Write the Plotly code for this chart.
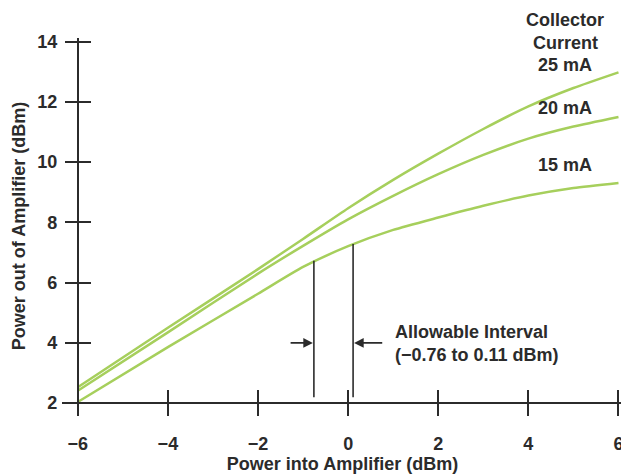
import plotly.graph_objects as go

# Power in (dBm) vs power out (dBm) for three collector currents
p_in = [-6, -4, -2, -1, 0, 1, 2, 3, 4, 5, 6]
out_25ma = [2.53, 4.50, 6.45, 7.45, 8.47, 9.41, 10.28, 11.10, 11.85, 12.46, 12.98]
out_20ma = [2.41, 4.35, 6.30, 7.22, 8.10, 8.88, 9.60, 10.24, 10.78, 11.18, 11.50]
out_15ma = [2.04, 3.86, 5.63, 6.52, 7.21, 7.75, 8.16, 8.55, 8.89, 9.14, 9.31]

# allowable interval markers
interval_x = [-0.76, 0.11]
interval_top = [6.73, 7.28]
interval_bottom = 2.2

x_ticks = [-6, -4, -2, 0, 2, 4, 6]
y_ticks = [2, 4, 6, 8, 10, 12, 14]

x_range = [-6.35, 6.1]
y_range = [1.64, 14.12]

GREEN = '#a6cf5c'
INK = '#2b2b2b'
FONT = dict(family='Liberation Sans, Arial, sans-serif', size=18, color=INK, weight='bold')

fig = go.Figure()

for vals in [out_25ma, out_20ma, out_15ma]:
    fig.add_trace(go.Scatter(x=p_in, y=vals, mode='lines',
                             line=dict(color=GREEN, width=2.5, shape='spline', smoothing=0.6),
                             showlegend=False, hoverinfo='skip'))

for xv, top in zip(interval_x, interval_top):
    fig.add_trace(go.Scatter(x=[xv, xv], y=[interval_bottom, top], mode='lines',
                             line=dict(color=INK, width=1.6),
                             showlegend=False, hoverinfo='skip'))

# invisible trace so the overlay axes get drawn
fig.add_trace(go.Scatter(x=[x_ticks[0]], y=[y_ticks[0]], xaxis='x2', yaxis='y2',
                         mode='markers', marker=dict(opacity=0), showlegend=False,
                         hoverinfo='skip'))

# axis positions (paper fraction) where the other axis sits
x_pos = (y_ticks[0] - y_range[0]) / (y_range[1] - y_range[0])
y_pos = (x_ticks[0] - x_range[0]) / (x_range[1] - x_range[0])

axis_common = dict(showgrid=False, zeroline=False, showline=True, linecolor=INK,
                   linewidth=1.6, tickcolor=INK, tickwidth=1.6, ticklen=12,
                   automargin=False)

# page body adds an 8px offset, so the figure is 8px smaller than the window
fig.update_layout(
    width=621, height=466,
    margin=dict(l=54, r=6, t=30, b=60),
    paper_bgcolor='white', plot_bgcolor='white',
    font=FONT,
    xaxis=dict(range=x_range, tickvals=x_ticks, ticks='outside',
               anchor='free', position=x_pos, ticklabelstandoff=12,
               tickfont=FONT, ticklabeloverflow='allow',
               title=dict(text='Power into Amplifier (dBm)', font=FONT, standoff=3),
               **axis_common),
    yaxis=dict(range=y_range, tickvals=y_ticks, ticks='outside',
               anchor='free', position=y_pos, ticklabelstandoff=4,
               tickfont=FONT,
               title=dict(text='Power out of Amplifier (dBm)', font=FONT, standoff=6),
               **axis_common),
    xaxis2=dict(range=x_range, tickvals=x_ticks, ticks='inside', showticklabels=False,
                overlaying='x', anchor='free', position=x_pos, **axis_common),
    yaxis2=dict(range=y_range, tickvals=y_ticks, ticks='inside', showticklabels=False,
                overlaying='y', anchor='free', position=y_pos, **axis_common),
)

# curve labels (Collector sits above the top of the range, so shift it in pixels)
labels = [('Collector', 13.97, 23), ('Current', 13.97, 0), ('25 mA', 13.24, 0),
          ('20 mA', 11.81, 0), ('15 mA', 9.91, 0)]
for txt, yv, shift in labels:
    fig.add_annotation(x=4.82, y=yv, yshift=shift, text=txt, showarrow=False, font=FONT,
                       xanchor='center', yanchor='middle')

# interval arrows
fig.add_annotation(x=interval_x[0], y=4.0, ax=-1.31, ay=4.0, axref='x', ayref='y',
                   text='', showarrow=True, arrowhead=2, arrowsize=1.2,
                   arrowwidth=1.6, arrowcolor=INK, standoff=1)
fig.add_annotation(x=interval_x[1], y=4.0, ax=0.79, ay=4.0, axref='x', ayref='y',
                   text='', showarrow=True, arrowhead=2, arrowsize=1.2,
                   arrowwidth=1.6, arrowcolor=INK, standoff=1)
fig.add_annotation(x=1.0, y=3.97, text='Allowable Interval<br>(\u22120.76 to 0.11 dBm)',
                   showarrow=False, font=FONT, xanchor='left', yanchor='middle',
                   align='left')

fig.write_html('out.html')
